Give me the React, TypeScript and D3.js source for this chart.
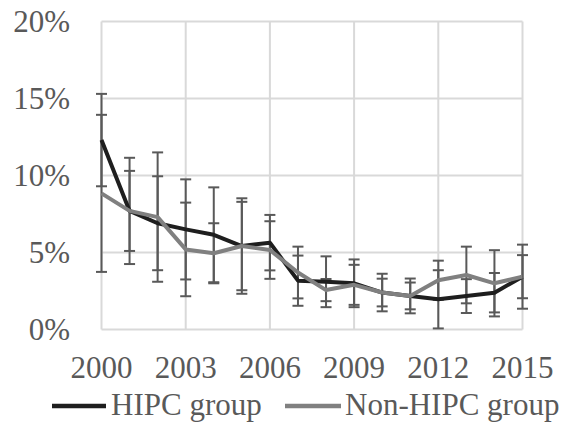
import * as d3 from 'd3';
import React, { useEffect } from 'react';

// years on the category axis
const years = [2000, 2001, 2002, 2003, 2004, 2005, 2006, 2007, 2008, 2009, 2010, 2011, 2012, 2013, 2014, 2015];
const xTickYears = [2000, 2003, 2006, 2009, 2012, 2015];
const yTicks = [0, 5, 10, 15, 20];

// series values, in percent
const hipc = [12.3, 7.7, 6.9, 6.5, 6.15, 5.42, 5.64, 3.17, 3.1, 3.0, 2.4, 2.18, 1.96, 2.17, 2.39, 3.43];
const nonHipc = [8.84, 7.7, 7.3, 5.2, 4.95, 5.42, 5.16, 3.7, 2.56, 2.9, 2.4, 2.18, 3.2, 3.54, 3.0, 3.43];

// error bar half widths, in percent
const hipcErr = [3.0, 3.45, 3.05, 3.25, 3.08, 3.1, 1.8, 1.63, 1.65, 1.55, 1.22, 1.13, 1.89, 1.1, 1.28, 2.08];
const nonHipcErr = [5.1, 2.6, 4.2, 3.04, 1.95, 2.87, 1.87, 1.68, 0.72, 1.3, 0.9, 0.87, 1.27, 1.84, 2.15, 1.4];

const seriesNames = ['HIPC group', 'Non-HIPC group'];

export default function App() {
  useEffect(() => {
    document.body.style.margin = '0';
  }, []);

  const width = 569;
  const height = 424;

  // scales
  const x = d3.scaleLinear().domain([2000, 2015]).range([101.5, 522.5]);
  const y = d3.scaleLinear().domain([0, 20]).range([329.5, 21.5]);

  const line = d3.line<number>()
    .x((d, i) => x(years[i]))
    .y(d => y(d));

  const series = [
    { name: seriesNames[0], values: hipc, err: hipcErr, color: '#1e1e1e' },
    { name: seriesNames[1], values: nonHipc, err: nonHipcErr, color: '#808080' },
  ];

  const font = '"Liberation Serif", "Times New Roman", serif';
  const textColor = '#595959';
  const capW = 5.5;

  return (
    <svg width={width} height={height} style={{ display: 'block' }}>
      <rect width={width} height={height} fill="#fff" />

      {/* gridlines */}
      {yTicks.map(t => (
        <line key={'h' + t} x1={x(2000)} x2={x(2015)} y1={y(t)} y2={y(t)} stroke="#d9d9d9" strokeWidth={2} />
      ))}
      {xTickYears.map(t => (
        <line key={'v' + t} x1={x(t)} x2={x(t)} y1={y(0)} y2={y(20)} stroke="#d9d9d9" strokeWidth={2} />
      ))}

      {/* y labels */}
      {yTicks.map(t => (
        <text key={'yl' + t} x={70} y={y(t)} dy="0.34em" textAnchor="end"
          fontFamily={font} fontSize={31} fill={textColor}>{t + '%'}</text>
      ))}

      {/* x labels */}
      {xTickYears.map(t => (
        <text key={'xl' + t} x={x(t)} y={378} textAnchor="middle"
          fontFamily={font} fontSize={31} fill={textColor}>{t}</text>
      ))}

      {/* error bars */}
      {series.map(s => (
        <g key={'e' + s.name} stroke="#595959" strokeWidth={2}>
          {s.values.map((v, i) => {
            const cx = x(years[i]);
            const hi = y(v + s.err[i]);
            const lo = y(Math.max(0, v - s.err[i]));
            return (
              <g key={i}>
                <line x1={cx} x2={cx} y1={hi} y2={lo} />
                <line x1={cx - capW} x2={cx + capW} y1={hi} y2={hi} />
                <line x1={cx - capW} x2={cx + capW} y1={lo} y2={lo} />
              </g>
            );
          })}
        </g>
      ))}

      {/* lines */}
      {series.map(s => (
        <path key={'l' + s.name} d={line(s.values) || ''} fill="none" stroke={s.color}
          strokeWidth={4} strokeLinejoin="round" />
      ))}

      {/* legend */}
      <line x1={52} x2={106} y1={406} y2={406} stroke={series[0].color} strokeWidth={4.5} />
      <text x={111} y={415} fontFamily={font} fontSize={31} fill={textColor}>{seriesNames[0]}</text>
      <line x1={285} x2={341} y1={406} y2={406} stroke={series[1].color} strokeWidth={4.5} />
      <text x={345} y={415} fontFamily={font} fontSize={31} fill={textColor}>{seriesNames[1]}</text>
    </svg>
  );
}
